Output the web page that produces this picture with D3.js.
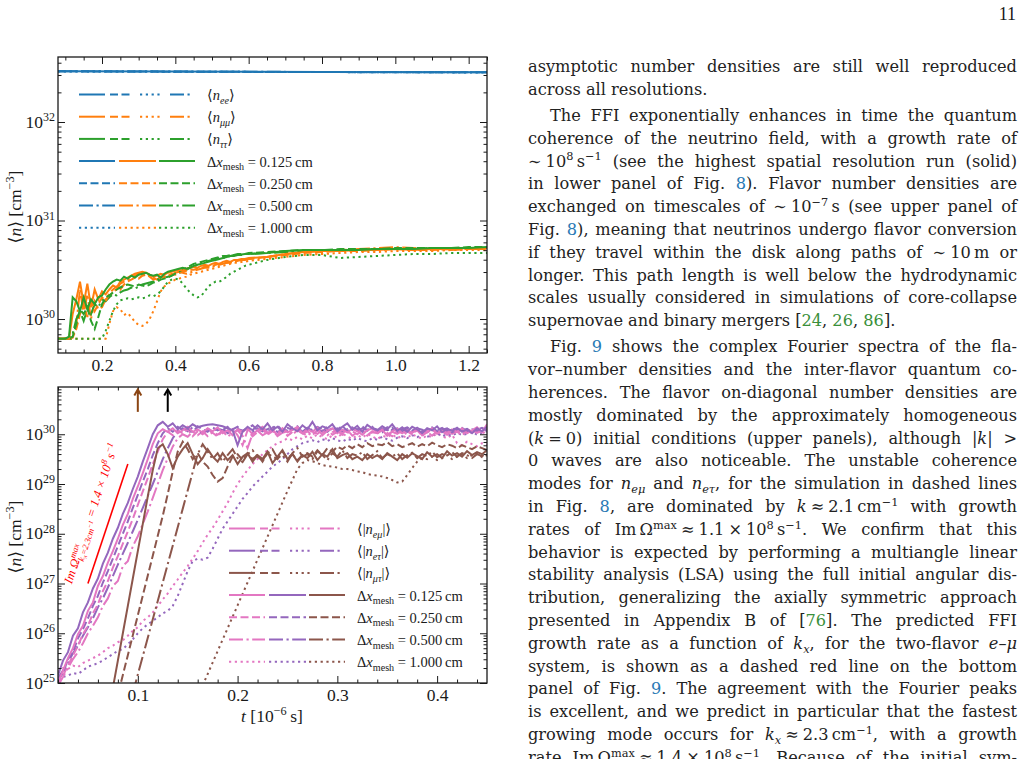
<!DOCTYPE html>
<html>
<head>
<meta charset="utf-8">
<script src="https://cdn.jsdelivr.net/npm/d3@7"></script>
<style>
html, body { margin: 0; padding: 0; background: #fff; }
svg { display: block; font-family: "Liberation Serif", "DejaVu Serif", serif; }
</style>
</head>
<body>
<div id="page"></div>
<script>
// ---- top panel: log10 <n> [cm^-3] against t [1e-6 s] ----
var tTop = [0.08,0.09,0.10,0.11,0.12,0.13,0.14,0.15,0.16,0.17,
            0.18,0.19,0.20,0.21,0.22,0.23,0.24,0.25,0.26,0.27,
            0.28,0.29,0.30,0.31,0.32,0.33,0.34,0.35,0.36,0.37,
            0.38,0.39,0.40,0.41,0.42,0.43,0.44,0.45,0.46,0.47,
            0.48,0.49,0.50,0.51,0.52,0.53,0.54,0.55,0.56,0.57,
            0.58,0.59,0.60,0.65,0.70,0.75,0.80,0.85,0.90,0.95,
            1.00,1.05,1.10,1.15,1.20,1.25];

var eeT = [0.08, 0.40, 0.80, 1.25];
var eeSolid   = [32.515, 32.512, 32.508, 32.505];
var eeDashed  = [32.515, 32.511, 32.507, 32.504];
var eeDashDot = [32.516, 32.512, 32.508, 32.505];
var eeDotted  = [32.514, 32.511, 32.507, 32.503];

var muSolid = [29.80,29.80,29.80,29.80,30.05,30.20,30.38,30.15,30.36,30.12,
               30.30,30.20,30.28,30.25,30.30,30.34,30.32,30.38,30.40,30.42,
               30.44,30.46,30.47,30.48,30.47,30.45,30.43,30.44,30.46,30.45,
               30.47,30.48,30.49,30.50,30.49,30.51,30.52,30.53,30.52,30.54,
               30.55,30.54,30.56,30.57,30.56,30.58,30.59,30.58,30.60,30.60,
               30.61,30.61,30.62,30.63,30.66,30.68,30.69,30.69,30.70,30.70,
               30.71,30.70,30.71,30.71,30.72,30.72];
var muDashed = [29.80,29.80,29.80,29.80,29.81,29.90,30.05,30.15,30.02,30.20,
                30.08,30.15,30.22,30.18,30.26,30.30,30.33,30.30,30.35,30.38,
                30.40,30.42,30.41,30.44,30.45,30.43,30.40,30.41,30.43,30.42,
                30.44,30.46,30.45,30.47,30.48,30.49,30.50,30.50,30.51,30.52,
                30.53,30.53,30.54,30.55,30.56,30.56,30.57,30.58,30.58,30.59,
                30.60,30.60,30.61,30.63,30.65,30.67,30.68,30.69,30.69,30.70,
                30.71,30.70,30.70,30.71,30.71,30.71];
var muDashDot = [29.80,29.80,29.80,29.80,29.82,29.95,30.30,30.05,30.25,30.00,
                 30.18,30.10,30.12,30.20,30.22,30.28,30.30,30.36,30.38,30.40,
                 30.42,30.44,30.46,30.45,30.47,30.44,30.42,30.40,30.42,30.44,
                 30.43,30.45,30.47,30.48,30.47,30.46,30.47,30.49,30.50,30.51,
                 30.52,30.52,30.53,30.54,30.55,30.56,30.57,30.57,30.58,30.59,
                 30.60,30.60,30.61,30.63,30.66,30.68,30.69,30.70,30.71,30.72,
                 30.73,30.72,30.71,30.70,30.71,30.71];
var muDotted = [29.80,29.80,29.80,29.80,29.80,29.80,29.80,29.80,29.80,29.80,
                29.80,29.80,29.80,29.80,29.95,30.08,30.12,30.10,30.04,30.06,
                30.02,29.97,29.94,29.93,29.95,30.00,30.08,30.18,30.28,30.33,
                30.36,30.38,30.40,30.41,30.42,30.43,30.45,30.46,30.47,30.48,
                30.49,30.50,30.51,30.52,30.53,30.54,30.55,30.56,30.57,30.57,
                30.58,30.58,30.59,30.61,30.63,30.65,30.66,30.67,30.68,30.68,
                30.69,30.69,30.69,30.70,30.70,30.70];

var tauSolid = [29.80,29.80,29.80,29.82,30.22,30.18,30.08,30.22,30.10,30.20,
                30.15,30.22,30.24,30.30,30.35,30.38,30.40,30.39,30.43,30.41,
                30.44,30.42,30.45,30.46,30.47,30.45,30.44,30.45,30.42,30.46,
                30.48,30.49,30.50,30.51,30.52,30.51,30.52,30.54,30.55,30.56,
                30.57,30.58,30.59,30.60,30.61,30.62,30.63,30.64,30.65,30.65,
                30.655,30.66,30.66,30.67,30.69,30.70,30.70,30.70,30.70,30.71,
                30.71,30.71,30.72,30.72,30.72,30.73];
var tauDashed = [29.80,29.80,29.80,29.80,29.82,29.95,30.10,30.05,30.12,29.98,
                 29.90,30.02,30.15,30.22,30.24,30.27,30.30,30.32,30.34,30.35,
                 30.34,30.33,30.35,30.34,30.33,30.35,30.37,30.38,30.40,30.41,
                 30.42,30.44,30.46,30.48,30.50,30.52,30.54,30.56,30.57,30.58,
                 30.59,30.60,30.61,30.62,30.63,30.64,30.64,30.65,30.65,30.66,
                 30.66,30.66,30.67,30.68,30.69,30.70,30.70,30.71,30.71,30.71,
                 30.72,30.72,30.72,30.72,30.73,30.73];
var tauDashDot = [29.80,29.80,29.80,29.80,29.85,30.00,30.08,29.98,30.10,30.05,
                  30.15,30.12,30.20,30.18,30.22,30.25,30.24,30.27,30.29,30.30,
                  30.32,30.31,30.33,30.35,30.36,30.37,30.38,30.40,30.41,30.42,
                  30.43,30.44,30.46,30.47,30.48,30.50,30.52,30.53,30.55,30.57,
                  30.58,30.59,30.60,30.61,30.62,30.62,30.63,30.64,30.64,30.65,
                  30.65,30.66,30.66,30.67,30.68,30.69,30.70,30.70,30.70,30.71,
                  30.71,30.71,30.72,30.72,30.72,30.72];
var tauDotted = [29.80,29.80,29.80,29.80,29.80,29.80,29.80,29.80,29.80,29.80,
                 29.80,29.80,29.80,29.88,29.98,30.08,30.15,30.19,30.20,30.21,
                 30.20,30.21,30.22,30.21,30.22,30.24,30.23,30.25,30.28,30.33,
                 30.38,30.40,30.41,30.40,30.36,30.31,30.27,30.24,30.22,30.23,
                 30.28,30.33,30.36,30.38,30.38,30.40,30.43,30.46,30.48,30.50,
                 30.52,30.54,30.55,30.60,30.63,30.65,30.65,30.62,30.63,30.64,
                 30.65,30.66,30.66,30.67,30.67,30.67];

// ---- bottom panel: log10 <|n_ab|> [cm^-3] against t [1e-6 s] ----
var tBot = [0.020,0.025,0.030,0.035,0.040,0.045,0.050,0.055,0.060,0.065,
            0.070,0.075,0.080,0.085,0.090,0.095,0.100,0.105,0.110,0.115,
            0.120,0.125,0.130,0.135,0.140,0.145,0.150,0.155,0.160,0.165,
            0.170,0.175,0.180,0.185,0.190,0.195,0.200,0.205,0.210,0.215,
            0.220,0.225,0.230,0.235,0.240,0.245,0.250,0.255,0.260,0.265,
            0.270,0.275,0.280,0.285,0.290,0.295,0.300,0.305,0.310,0.315,
            0.320,0.325,0.330,0.335,0.340,0.345,0.350,0.355,0.360,0.365,
            0.370,0.375,0.380,0.385,0.390,0.395,0.400,0.405,0.410,0.415,
            0.420,0.425,0.430,0.435,0.440,0.445,0.450];

var emuSolid = [25.00,25.25,25.50,25.70,25.98,26.15,26.45,26.62,26.95,27.15,
                27.42,27.65,27.90,28.18,28.40,28.70,28.95,29.22,29.50,29.80,
                30.02,30.10,30.05,30.12,30.02,30.08,30.15,30.05,30.10,30.03,
                30.12,30.06,30.14,30.02,30.08,29.98,30.10,30.05,30.12,30.00,
                30.08,30.15,30.02,30.10,29.98,30.12,30.04,30.09,30.15,30.02,
                30.10,30.05,30.13,29.98,30.07,30.12,30.02,30.09,30.04,30.11,
                30.06,29.99,30.08,30.12,30.03,30.09,29.97,30.06,30.11,30.02,
                30.08,30.03,30.10,29.98,30.06,30.12,30.01,30.07,30.03,30.10,
                30.05,30.12,30.02,30.08,30.14,30.04,30.20];
var emuDashed = [24.95,25.15,25.35,25.55,25.75,25.98,26.15,26.40,26.58,26.85,
                 27.05,27.32,27.55,27.80,28.05,28.30,28.58,28.85,29.12,29.40,
                 29.65,29.90,30.05,29.98,30.08,30.02,30.10,29.96,30.06,30.00,
                 30.09,30.03,29.95,30.07,30.01,30.10,29.98,29.78,30.08,29.96,
                 30.04,30.10,29.99,30.06,30.02,30.09,29.97,30.05,30.11,30.00,
                 30.06,29.98,30.08,30.03,30.10,29.99,30.05,30.02,30.09,29.97,
                 30.04,30.08,29.98,30.06,30.01,30.09,30.03,29.96,30.07,30.02,
                 30.06,30.00,30.08,29.97,30.04,30.09,30.02,30.06,29.99,30.05,
                 30.08,30.01,30.06,30.10,30.03,30.07,30.12];
var emuDashDot = [24.95,25.12,25.30,25.48,25.62,25.80,26.00,26.15,26.32,26.55,
                  26.70,26.95,27.05,27.35,27.45,27.75,27.95,28.20,28.45,28.72,
                  29.00,29.28,29.52,29.75,29.92,30.00,29.95,30.05,29.98,30.06,
                  29.96,30.04,29.99,30.07,29.95,30.03,30.08,29.97,29.72,30.01,
                  30.07,29.98,30.04,30.09,29.96,30.03,30.06,29.99,30.08,30.02,
                  29.97,30.05,30.01,30.08,29.98,30.04,30.07,29.99,30.03,30.06,
                  30.00,30.08,29.97,30.04,30.02,30.09,29.98,30.05,30.01,30.07,
                  29.99,30.04,30.08,30.00,30.05,29.97,30.06,30.02,30.09,30.01,
                  30.05,29.98,30.07,30.03,30.08,30.02,30.06];
var emuDotted = [25.22,25.30,25.28,25.35,25.32,25.40,25.45,25.50,25.55,25.62,
                 25.70,25.75,25.82,25.86,25.95,26.05,26.12,26.25,26.32,26.42,
                 26.55,26.68,26.80,26.95,27.08,27.22,27.35,27.50,27.65,27.82,
                 27.98,28.12,28.28,28.45,28.62,28.82,29.00,29.15,29.28,29.40,
                 29.50,29.60,29.68,29.76,29.82,29.86,29.92,29.88,29.95,29.90,
                 29.97,29.92,30.00,29.94,29.90,29.98,29.93,30.02,29.95,29.91,
                 29.98,29.93,30.01,29.96,29.90,29.97,29.94,30.00,29.92,29.97,
                 29.93,30.00,29.95,29.91,29.98,29.94,30.02,29.96,29.92,29.99,
                 29.82,29.78,29.85,29.80,29.76,29.82,29.79];

var etauSolid = [25.15,25.45,25.62,25.95,26.10,26.42,26.62,26.90,27.10,27.40,
                 27.62,27.90,28.12,28.40,28.62,28.90,29.15,29.45,29.72,30.00,
                 30.18,30.25,30.15,30.22,30.10,30.18,30.12,30.20,30.14,30.17,
                 30.19,30.20,30.18,30.16,30.12,30.08,29.78,30.05,30.15,30.08,
                 30.18,30.10,30.22,30.08,30.15,30.05,30.20,30.12,30.06,30.18,
                 30.10,30.25,30.08,30.16,30.12,30.20,30.06,30.15,30.22,30.09,
                 30.17,30.05,30.19,30.12,30.08,30.16,30.10,30.20,30.07,30.14,
                 30.05,30.15,30.10,30.02,30.12,30.08,30.16,30.04,30.11,30.07,
                 30.13,30.05,30.10,30.02,30.12,30.06,30.15];
var etauDashed = [25.05,25.20,25.48,25.62,25.90,26.08,26.30,26.55,26.75,27.02,
                  27.25,27.50,27.75,28.00,28.25,28.52,28.78,29.05,29.30,29.58,
                  29.82,30.02,30.12,30.05,30.15,30.08,30.12,30.04,30.16,30.10,
                  30.05,30.14,30.08,30.12,30.02,30.10,30.15,30.06,30.12,30.18,
                  30.08,30.14,30.05,30.12,30.18,30.07,30.13,30.09,30.16,30.04,
                  30.12,30.08,30.15,30.10,30.05,30.14,30.09,30.17,30.06,30.12,
                  30.10,30.16,30.07,30.13,30.09,30.04,30.14,30.08,30.12,30.06,
                  30.11,30.07,30.13,30.05,30.10,30.14,30.06,30.09,30.12,30.04,
                  30.09,30.13,30.06,30.10,30.07,30.12,30.08];
var etauDashDot = [25.10,25.25,25.40,25.60,25.75,25.95,26.12,26.30,26.52,26.70,
                   26.92,27.15,27.38,27.60,27.82,28.05,28.28,28.52,28.76,29.00,
                   29.25,29.50,29.72,29.92,30.05,30.12,30.06,30.14,30.08,30.02,
                   30.10,30.05,30.12,30.08,30.15,30.03,30.11,30.07,30.13,30.05,
                   30.12,30.06,30.10,30.16,30.04,30.11,30.07,30.14,30.09,30.05,
                   30.13,30.08,30.11,30.05,30.15,30.09,30.12,30.06,30.10,30.14,
                   30.07,30.12,30.09,30.15,30.06,30.11,30.08,30.13,30.05,30.10,
                   30.14,30.07,30.12,30.09,30.04,30.11,30.08,30.13,30.06,30.10,
                   30.12,30.07,30.11,30.05,30.09,30.13,30.08];
var etauDotted = [25.08,25.12,25.15,25.20,25.18,25.25,25.33,25.36,25.40,25.45,
                  25.52,25.58,25.65,25.68,25.78,25.88,26.00,26.10,26.18,26.25,
                  26.32,26.40,26.45,26.55,26.75,27.00,27.25,27.45,27.50,27.48,
                  27.52,27.70,27.90,28.10,28.25,28.40,28.55,28.70,28.82,28.95,
                  29.05,29.15,29.25,29.35,29.42,29.50,29.60,29.70,29.76,29.82,
                  29.85,29.88,29.84,29.90,29.86,29.92,29.88,29.85,29.91,29.87,
                  29.93,29.88,29.86,29.92,29.89,29.95,29.90,29.87,29.93,29.96,
                  29.92,29.98,29.94,30.00,29.95,29.98,30.02,29.96,30.00,29.97,
                  30.03,29.98,30.01,30.05,29.99,30.03,30.06];

var mutauSolid = [null,null,null,null,null,null,null,null,null,null,
                  24.35,24.90,25.45,26.00,26.55,27.10,27.65,28.20,28.75,29.28,
                  29.72,29.80,29.60,29.32,29.55,29.70,29.82,29.60,29.40,29.52,
                  29.70,29.55,29.45,29.62,29.48,29.58,29.40,29.55,29.62,29.45,
                  29.58,29.50,29.65,29.42,29.55,29.68,29.50,29.60,29.45,29.58,
                  29.52,29.65,29.48,29.60,29.55,29.70,29.52,29.58,29.62,29.50,
                  29.55,29.48,29.60,29.52,29.58,29.50,29.62,29.55,29.48,29.60,
                  29.53,29.62,29.56,29.50,29.64,29.55,29.60,29.52,29.66,29.57,
                  29.62,29.55,29.66,29.58,29.64,29.60,29.68];
var mutauDashed = [null,null,null,null,null,null,null,null,null,null,
                   null,24.60,24.76,25.16,25.56,25.96,26.36,26.76,27.16,27.56,
                   27.96,28.36,28.80,29.25,29.65,29.85,29.70,29.50,29.62,29.45,
                   29.35,29.18,29.05,29.12,29.35,29.55,29.60,29.48,29.62,29.50,
                   29.58,29.45,29.62,29.55,29.50,29.65,29.52,29.60,29.48,29.58,
                   29.62,29.55,29.68,29.58,29.72,29.65,29.75,29.70,29.78,29.72,
                   29.80,29.74,29.82,29.76,29.80,29.78,29.84,29.76,29.80,29.74,
                   29.78,29.82,29.75,29.80,29.76,29.83,29.78,29.74,29.80,29.77,
                   29.72,29.78,29.74,29.70,29.76,29.72,29.68];
var mutauDashDot = [null,null,null,null,null,null,null,null,null,null,
                    null,null,null,null,null,24.80,25.17,25.54,25.91,26.28,
                    26.65,27.02,27.39,27.76,28.13,28.50,28.87,29.24,29.60,29.80,
                    29.65,29.50,29.62,29.45,29.58,29.70,29.52,29.44,29.60,29.68,
                    29.55,29.48,29.62,29.70,29.52,29.58,29.45,29.62,29.72,29.55,
                    29.60,29.50,29.66,29.58,29.48,29.62,29.55,29.68,29.52,29.60,
                    29.57,29.64,29.50,29.58,29.66,29.52,29.60,29.55,29.62,29.50,
                    29.58,29.63,29.52,29.60,29.56,29.65,29.54,29.60,29.57,29.64,
                    29.55,29.62,29.58,29.52,29.60,29.56,29.62];
var mutauDotted = [null,null,null,null,null,null,null,null,null,null,
                   null,null,null,null,null,null,null,null,null,null,
                   null,null,null,null,null,null,null,null,null,24.95,
                   25.18,25.41,25.64,25.87,26.10,26.33,26.56,26.79,27.02,27.25,
                   27.48,27.71,27.94,28.17,28.40,28.63,28.86,29.08,29.30,29.42,
                   29.48,29.46,29.42,29.38,29.36,29.35,29.33,29.30,29.30,29.28,
                   29.25,29.24,29.20,29.18,29.17,29.15,29.12,29.08,29.03,29.05,
                   29.18,29.32,29.45,29.52,29.50,29.55,29.48,29.52,29.58,29.50,
                   29.55,29.60,29.52,29.58,29.62,29.54,29.58];

// growth-rate guide line (Im Omega = 1.4e8 s^-1) and arrows
var guideT = [0.05, 0.09];
var guideV = [27.0, 29.4];
var arrowT = [0.10, 0.13];

var meshLabels = ['0.125', '0.250', '0.500', '1.000'];
var xTicksTop = [0.2, 0.4, 0.6, 0.8, 1.0, 1.2];
var xTicksBot = [0.1, 0.2, 0.3, 0.4];
var yTicksTop = [1e30, 1e31, 1e32];
var yTicksBot = [1e25, 1e26, 1e27, 1e28, 1e29, 1e30];

// ---- styles ----
var blue = '#1f77b4', orange = '#ff7f0e', green = '#2ca02c';
var pink = '#e377c2', purple = '#9467bd', brown = '#8c564b';
var ink = '#1a1a1a';
var LW = 2;
var dashes = [null, '8,3.5', '14,3.5,2.2,3.5', '2.2,3.6'];

var W = 1025, H = 759, L = 58, R = 487;
var topBox = {t: 57, b: 353}, botBox = {t: 387, b: 683};

var xTop = d3.scaleLinear().domain([0.08, 1.25]).range([L, R]);
var yTop = d3.scaleLog().domain([Math.pow(10, 29.655), Math.pow(10, 32.66)]).range([topBox.b, topBox.t]);
var xBot = d3.scaleLinear().domain([0.02, 0.45]).range([L, R]);
var yBot = d3.scaleLog().domain([1e25, Math.pow(10, 30.95)]).range([botBox.b, botBox.t]);

var svg = d3.select('#page').append('svg').attr('width', W).attr('height', H);
var defs = svg.append('defs');
[['cTop', topBox], ['cBot', botBox]].forEach(function(c) {
    defs.append('clipPath').attr('id', c[0]).append('rect')
        .attr('x', L).attr('y', c[1].t).attr('width', R - L).attr('height', c[1].b - c[1].t);
});

// text with sub/superscripts
function rich(t, parts, fs) {
    var off = 0;
    parts.forEach(function(p) {
        if (typeof p === 'string') p = {t: p};
        var f = p.fs || (p.s ? 0.7 * fs : null);
        var target = p.y != null ? p.y : p.s === 'sup' ? -0.38 * fs : p.s === 'sub' ? 0.25 * fs : 0;
        var ts = t.append('tspan').text(p.t);
        if (f) ts.attr('font-size', f);
        if (p.i) ts.attr('font-style', 'italic');
        if (p.c) ts.attr('fill', p.c);
        if (p.dx) ts.attr('dx', p.dx);
        if (target !== off) { ts.attr('dy', target - off); off = target; }
    });
    return t;
}

function logMinor(dom) {
    var out = [];
    for (var k = Math.floor(Math.log10(dom[0])); k <= Math.ceil(Math.log10(dom[1])); k++) {
        for (var m = 2; m <= 9; m++) {
            var v = m * Math.pow(10, k);
            if (v >= dom[0] && v <= dom[1]) out.push(v);
        }
    }
    return out;
}

function drawLines(clip, x, y, list) {
    var line = d3.line()
        .defined(function(d) { return d[1] != null; })
        .x(function(d) { return x(d[0]); })
        .y(function(d) { return y(Math.pow(10, d[1])); });
    svg.append('g').attr('clip-path', 'url(#' + clip + ')')
        .selectAll('path').data(list).enter().append('path')
        .attr('d', function(s) { return line(s.t.map(function(t, i) { return [t, s.v[i]]; })); })
        .attr('fill', 'none')
        .attr('stroke', function(s) { return s.c; })
        .attr('stroke-width', LW)
        .attr('stroke-dasharray', function(s) { return dashes[s.r]; });
}

function axes(x, y, box, xMaj, xMin, fmt) {
    var g = svg.append('g');
    var yMaj = y.ticks().filter(function(v) { return Math.abs(Math.log10(v) - Math.round(Math.log10(v))) < 1e-9; });
    var yMin = logMinor(y.domain());
    function put(axis, tx, ty) {
        var a = g.append('g').attr('transform', 'translate(' + tx + ',' + ty + ')').call(axis);
        a.select('.domain').remove();
        a.attr('font-family', null).attr('font-size', 17.5);
        a.selectAll('line').attr('stroke', ink).attr('stroke-width', 1);
        a.selectAll('text').attr('fill', ink);
        return a;
    }
    put(d3.axisBottom(x).tickValues(xMaj).tickSize(-7).tickPadding(6).tickFormat(fmt), 0, box.b);
    put(d3.axisBottom(x).tickValues(xMin).tickSize(-3.5).tickFormat(''), 0, box.b);
    put(d3.axisTop(x).tickValues(xMaj).tickSize(-7).tickFormat(''), 0, box.t);
    put(d3.axisTop(x).tickValues(xMin).tickSize(-3.5).tickFormat(''), 0, box.t);
    put(d3.axisLeft(y).tickValues(yMaj).tickSize(-7).tickFormat(''), L, 0);
    put(d3.axisLeft(y).tickValues(yMin).tickSize(-3.5).tickFormat(''), L, 0);
    put(d3.axisRight(y).tickValues(yMaj).tickSize(-7).tickFormat(''), R, 0);
    put(d3.axisRight(y).tickValues(yMin).tickSize(-3.5).tickFormat(''), R, 0);
    g.append('rect').attr('x', L).attr('y', box.t).attr('width', R - L).attr('height', box.b - box.t)
        .attr('fill', 'none').attr('stroke', ink).attr('stroke-width', 1.3);
    return g;
}

function yLabels(y, vals) {
    vals.forEach(function(v) {
        var e = Math.round(Math.log10(v));
        rich(svg.append('text').attr('x', L - 3).attr('y', y(v) + 5.5).attr('text-anchor', 'end')
            .attr('font-size', 17.5).attr('fill', ink), ['10', {t: String(e), fs: 12, y: -6.5}], 17.5);
    });
}

function yTitle(cy) {
    rich(svg.append('text').attr('transform', 'translate(21,' + cy + ') rotate(-90)')
        .attr('text-anchor', 'middle').attr('font-size', 17.5).attr('fill', ink),
        ['\u27E8', {t: 'n', i: 1}, '\u27E9 [cm', {t: '\u22123', s: 'sup'}, ']'], 17.5);
}

function legend(x0, y0, cols, flavParts) {
    var g = svg.append('g');
    var step = 22.2, fs = 14.5;
    var seg4 = [[0, 26], [31, 52], [61, 81], [91, 113]];
    var sty4 = [0, 1, 3, 2];
    var seg3 = [[0, 36], [40, 77], [80, 116]];
    function handle(a, b, yy, c, d) {
        g.append('line').attr('x1', x0 + a).attr('x2', x0 + b).attr('y1', yy).attr('y2', yy)
            .attr('stroke', c).attr('stroke-width', LW).attr('stroke-dasharray', d);
    }
    flavParts.forEach(function(p, i) {
        var yy = y0 + i * step;
        seg4.forEach(function(s, j) { handle(s[0], s[1], yy, cols[i], dashes[sty4[j]]); });
        rich(g.append('text').attr('x', x0 + 128).attr('y', yy + 5.5).attr('font-size', fs).attr('fill', ink), p, fs);
    });
    meshLabels.forEach(function(m, k) {
        var yy = y0 + (3 + k) * step;
        seg3.forEach(function(s, j) { handle(s[0], s[1], yy, cols[j], dashes[k]); });
        rich(g.append('text').attr('x', x0 + 128).attr('y', yy + 5.5).attr('font-size', fs).attr('fill', ink),
            ['\u0394', {t: 'x', i: 1}, {t: 'mesh', s: 'sub'}, ' = ' + m + '\u2009cm'], fs);
    });
}

// ---- top panel ----
var topRes = [[eeSolid, muSolid, tauSolid], [eeDashed, muDashed, tauDashed],
              [eeDashDot, muDashDot, tauDashDot], [eeDotted, muDotted, tauDotted]];
var topList = [];
[3, 2, 1, 0].forEach(function(r) {
    topList.push({t: eeT, v: topRes[r][0], c: blue, r: r});
    topList.push({t: tTop, v: topRes[r][1], c: orange, r: r});
    topList.push({t: tTop, v: topRes[r][2], c: green, r: r});
});
drawLines('cTop', xTop, yTop, topList);
axes(xTop, yTop, topBox, xTicksTop, d3.range(0.10, 1.26, 0.05).filter(function(v) {
    return Math.abs(v * 5 - Math.round(v * 5)) > 1e-6; }), d3.format('.1f'));
yLabels(yTop, yTicksTop);
yTitle(207);
legend(79, 94.5, [blue, orange, green], [
    ['\u27E8', {t: 'n', i: 1}, {t: 'ee', i: 1, s: 'sub'}, '\u27E9'],
    ['\u27E8', {t: 'n', i: 1}, {t: '\u03BC\u03BC', i: 1, s: 'sub'}, '\u27E9'],
    ['\u27E8', {t: 'n', i: 1}, {t: '\u03C4\u03C4', i: 1, s: 'sub'}, '\u27E9']
]);

// ---- bottom panel ----
var botRes = [[emuSolid, etauSolid, mutauSolid], [emuDashed, etauDashed, mutauDashed],
              [emuDashDot, etauDashDot, mutauDashDot], [emuDotted, etauDotted, mutauDotted]];
var botList = [];
[3, 2, 1, 0].forEach(function(r) {
    botList.push({t: tBot, v: botRes[r][0], c: pink, r: r});
    botList.push({t: tBot, v: botRes[r][1], c: purple, r: r});
    botList.push({t: tBot, v: botRes[r][2], c: brown, r: r});
});
drawLines('cBot', xBot, yBot, botList);
axes(xBot, yBot, botBox, xTicksBot, d3.range(0.02, 0.451, 0.02).filter(function(v) {
    return Math.abs(v * 10 - Math.round(v * 10)) > 1e-6; }), d3.format('.1f'));
yLabels(yBot, yTicksBot);
yTitle(537);
rich(svg.append('text').attr('x', 272).attr('y', 722).attr('text-anchor', 'middle')
    .attr('font-size', 17.5).attr('fill', ink),
    [{t: 't', i: 1}, ' [10', {t: '\u22126', s: 'sup'}, '\u2009s]'], 17.5);

// guide line and its rotated label
var gx0 = xBot(guideT[0]), gy0 = yBot(Math.pow(10, guideV[0]));
var gx1 = xBot(guideT[1]), gy1 = yBot(Math.pow(10, guideV[1]));
svg.append('line').attr('x1', gx0).attr('y1', gy0).attr('x2', gx1).attr('y2', gy1)
    .attr('stroke', 'red').attr('stroke-width', 1.6);
var ang = Math.atan2(gy1 - gy0, gx1 - gx0);
var ux = Math.cos(ang), uy = Math.sin(ang);
var px = uy, py = -ux;               // normal pointing to the upper left of the line
var lx = gx0 + 15 * px - 6 * ux, ly = gy0 + 15 * py - 6 * uy;
rich(svg.append('text')
    .attr('transform', 'translate(' + lx + ',' + ly + ') rotate(' + (ang * 180 / Math.PI) + ')')
    .attr('font-size', 12.5).attr('fill', 'red').attr('font-style', 'italic'),
    ['Im \u03A9', {t: 'max', fs: 8.8, y: -5.2},
     {t: 'k', fs: 8.8, y: 4, dx: -15}, {t: 'x', fs: 6.5, y: 5.8}, {t: '=2.3cm', fs: 8.8, y: 4},
     {t: '\u22121', fs: 6.5, y: 0.5},
     {t: ' = 1.4 \u00D7 10', y: 0}, {t: '8', fs: 8.8, y: -5.2}, {t: ' s', y: 0}, {t: '\u22121', fs: 8.8, y: -5.2}], 12.5);

// arrows marking the two onsets
var arrowCols = ['#8b4513', '#000'];
arrowT.forEach(function(t, i) {
    var ax = xBot(t), yb = yBot(Math.pow(10, 30.45)), yt = yBot(Math.pow(10, 30.9));
    var g = svg.append('g').attr('stroke', arrowCols[i]).attr('stroke-width', 2).attr('fill', 'none');
    g.append('line').attr('x1', ax).attr('x2', ax).attr('y1', yb).attr('y2', yt + 1);
    g.append('path').attr('d', 'M' + (ax - 3.5) + ',' + (yt + 6) + 'L' + ax + ',' + yt + 'L' + (ax + 3.5) + ',' + (yt + 6));
});

legend(229, 528.5, [pink, purple, brown], [
    ['\u27E8|', {t: 'n', i: 1}, {t: 'e\u03BC', i: 1, s: 'sub'}, '|\u27E9'],
    ['\u27E8|', {t: 'n', i: 1}, {t: 'e\u03C4', i: 1, s: 'sub'}, '|\u27E9'],
    ['\u27E8|', {t: 'n', i: 1}, {t: '\u03BC\u03C4', i: 1, s: 'sub'}, '|\u27E9']
]);

// ---- page number and text column ----
svg.append('text').attr('x', 1016).attr('y', 20).attr('text-anchor', 'end')
    .attr('font-size', 18).attr('fill', ink).text('11');

var lb = '#2a7ab5', lg = '#3a8f3a', sp = '\u2009', rs = '\u2005';
var paras = [
    {y: 71.7, lines: [
        {p: ['asymptotic number densities are still well reproduced']},
        {p: ['across all resolutions.'], last: 1}
    ]},
    {y: 120.9, lines: [
        {p: ['The FFI exponentially enhances in time the quantum'], ind: 1},
        {p: ['coherence of the neutrino field, with a growth rate of']},
        {p: ['\u223C' + rs + '10', {t: '8', s: 'sup'}, sp + 's', {t: '\u22121', s: 'sup'}, ' (see the highest spatial resolution run (solid)']},
        {p: ['in lower panel of Fig. ', {t: '8', c: lb}, '). Flavor number densities are']},
        {p: ['exchanged on timescales of \u223C' + rs + '10', {t: '\u22127', s: 'sup'}, sp + 's (see upper panel of']},
        {p: ['Fig. ', {t: '8', c: lb}, '), meaning that neutrinos undergo flavor conversion']},
        {p: ['if they travel within the disk along paths of \u223C' + rs + '10' + sp + 'm or']},
        {p: ['longer. This path length is well below the hydrodynamic']},
        {p: ['scales usually considered in simulations of core-collapse']},
        {p: ['supernovae and binary mergers [', {t: '24', c: lg}, ', ', {t: '26', c: lg}, ', ', {t: '86', c: lg}, '].'], last: 1}
    ]},
    {y: 352.4, lines: [
        {p: ['Fig. ', {t: '9', c: lb}, ' shows the complex Fourier spectra of the fla-'], ind: 1},
        {p: ['vor\u2013number densities and the inter-flavor quantum co-']},
        {p: ['herences. The flavor on-diagonal number densities are']},
        {p: ['mostly dominated by the approximately homogeneous']},
        {p: ['(', {t: 'k', i: 1}, rs + '=' + rs + '0) initial conditions (upper panels), although |', {t: 'k', i: 1}, '| >']},
        {p: ['0 waves are also noticeable. The unstable coherence']},
        {p: ['modes for ', {t: 'n', i: 1}, {t: 'e\u03BC', i: 1, s: 'sub'}, ' and ', {t: 'n', i: 1}, {t: 'e\u03C4', i: 1, s: 'sub'}, ', for the simulation in dashed lines']},
        {p: ['in Fig. ', {t: '8', c: lb}, ', are dominated by ', {t: 'k', i: 1}, rs + '\u2248' + rs + '2.1' + sp + 'cm', {t: '\u22121', s: 'sup'}, ' with growth']},
        {p: ['rates of Im' + sp + '\u03A9', {t: 'max', s: 'sup'}, rs + '\u2248' + rs + '1.1' + rs + '\u00D7' + rs + '10', {t: '8', s: 'sup'}, sp + 's', {t: '\u22121', s: 'sup'}, '. We confirm that this']},
        {p: ['behavior is expected by performing a multiangle linear']},
        {p: ['stability analysis (LSA) using the full initial angular dis-']},
        {p: ['tribution, generalizing the axially symmetric approach']},
        {p: ['presented in Appendix B of [', {t: '76', c: lg}, ']. The predicted FFI']},
        {p: ['growth rate as a function of ', {t: 'k', i: 1}, {t: 'x', i: 1, s: 'sub'}, ', for the two-flavor ', {t: 'e', i: 1}, '\u2013', {t: '\u03BC', i: 1}]},
        {p: ['system, is shown as a dashed red line on the bottom']},
        {p: ['panel of Fig. ', {t: '9', c: lb}, '. The agreement with the Fourier peaks']},
        {p: ['is excellent, and we predict in particular that the fastest']},
        {p: ['growing mode occurs for ', {t: 'k', i: 1}, {t: 'x', i: 1, s: 'sub'}, rs + '\u2248' + rs + '2.3' + sp + 'cm', {t: '\u22121', s: 'sup'}, ', with a growth']},
        {p: ['rate Im' + sp + '\u03A9', {t: 'max', s: 'sup'}, rs + '\u2248' + rs + '1.4' + rs + '\u00D7' + rs + '10', {t: '8', s: 'sup'}, sp + 's', {t: '\u22121', s: 'sup'}, '. Because of the initial sym-']}
    ]}
];

// justified column: spaces absorb the slack, letters tighten if a line runs long
var tx0 = 528, tx1 = 1017, tfs = 16.2, lead = 22.8;
var col = svg.append('g').attr('font-family', '"DejaVu Serif", serif').attr('font-size', tfs).attr('fill', '#222');
paras.forEach(function(par) {
    par.lines.forEach(function(ln, i) {
        var x = tx0 + (ln.ind ? 22 : 0);
        var t = col.append('text').attr('x', x).attr('y', par.y + i * lead);
        rich(t, ln.p, tfs);
        if (!ln.last) {
            var len = t.node().getComputedTextLength();
            var str = t.text();
            var n = (str.match(/ /g) || []).length;
            var ws = n ? (tx1 - x - len) / n : 0;
            if (ws < -1.5) {
                t.style('letter-spacing', ((tx1 - x - len + 1.5 * n) / str.length) + 'px');
                ws = -1.5;
            }
            if (n) t.style('word-spacing', ws + 'px');
        }
    });
});
</script>
</body>
</html>
